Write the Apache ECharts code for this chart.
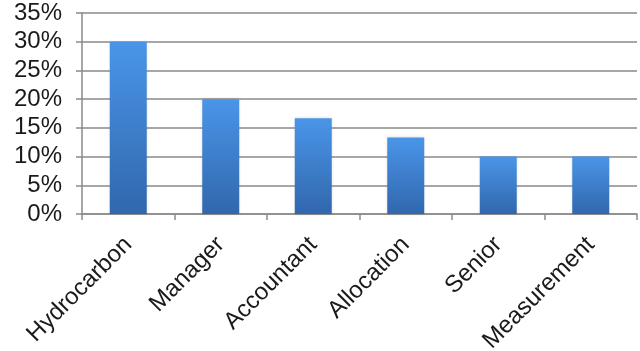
<!DOCTYPE html>
<html>
<head>
<meta charset="utf-8">
<script src="https://cdn.jsdelivr.net/npm/echarts@6/dist/echarts.min.js"></script>
<style>
  html, body { margin: 0; padding: 0; background: #fff; }
  #chart { width: 640px; height: 351px; }
</style>
</head>
<body>
<div id="chart"></div>
<script>
// Share of mentions per keyword
const categories = ['Hydrocarbon', 'Manager', 'Accountant', 'Allocation', 'Senior', 'Measurement'];
const shares = [30, 20, 16.67, 13.33, 10, 10];
const yTicks = { min: 0, max: 35, interval: 5 };

const chart = echarts.init(document.getElementById('chart'));
chart.setOption({
  animation: false,
  grid: { left: 82, right: 3, top: 13, bottom: 137, outerBoundsMode: 'none' },
  xAxis: {
    type: 'category',
    data: categories,
    axisLine: { lineStyle: { color: '#8a8a8a', width: 1.5 } },
    axisTick: { show: true, length: 6, lineStyle: { color: '#8a8a8a', width: 1.5 } },
    axisLabel: {
      rotate: 45,
      margin: 27,
      fontFamily: 'Liberation Sans, Arial, sans-serif',
      fontSize: 24,
      color: '#1a1a1a',
      interval: 0
    }
  },
  yAxis: {
    type: 'value',
    min: yTicks.min,
    max: yTicks.max,
    interval: yTicks.interval,
    axisLine: { show: true, lineStyle: { color: '#8a8a8a', width: 1.5 } },
    axisTick: { show: true, length: 6, lineStyle: { color: '#8a8a8a', width: 1.5 } },
    splitLine: { lineStyle: { color: '#8a8a8a', width: 1.5 } },
    axisLabel: {
      formatter: '{value}%',
      margin: 20,
      padding: [8, 0, 0, 0],
      fontFamily: 'Liberation Sans, Arial, sans-serif',
      fontSize: 24,
      color: '#1a1a1a'
    }
  },
  series: [{
    type: 'bar',
    data: shares,
    barWidth: '40%',
    itemStyle: {
      color: new echarts.graphic.LinearGradient(0, 0, 0, 1, [
        { offset: 0, color: '#4a95e8' },
        { offset: 1, color: '#3167ad' }
      ]),
      shadowColor: 'rgba(0,0,0,0.15)',
      shadowBlur: 3
    }
  }]
});
</script>
</body>
</html>
